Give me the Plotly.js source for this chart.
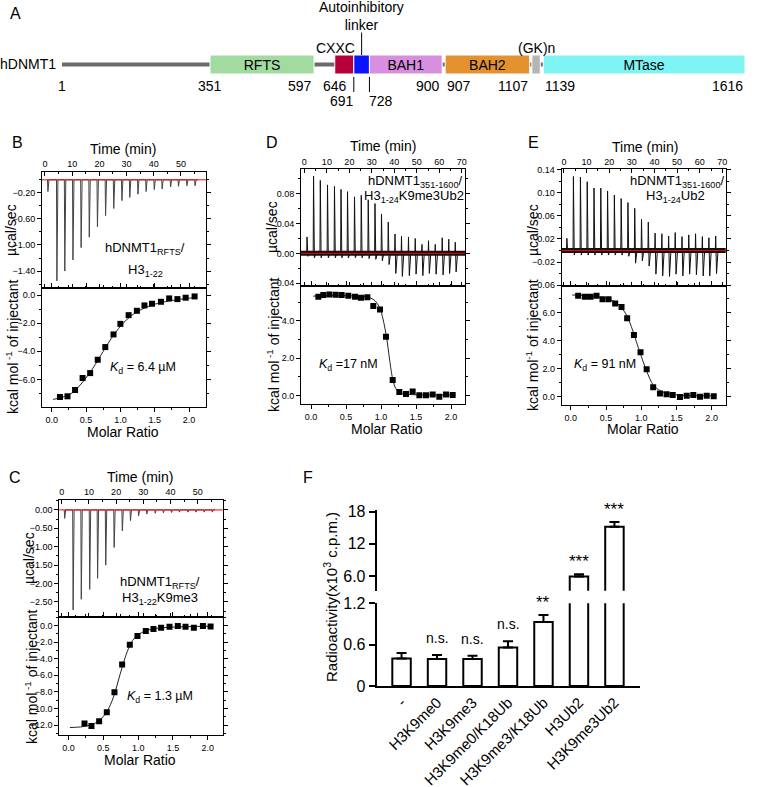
<!DOCTYPE html>
<html><head><meta charset="utf-8">
<script src="https://cdn.plot.ly/plotly-3.0.1.min.js"></script>
<style>html,body{margin:0;padding:0;background:#fff}#chart{width:757px;height:787px}</style>
</head><body><div id="chart"></div>
<script>
// ================= DATA =================
// Panel A: hDNMT1 domain architecture (residue numbers)
const domainNames  = ['RFTS', 'CXXC', 'Autoinhibitory linker', 'BAH1', 'BAH2', '(GK)n', 'MTase'];
const domainText   = ['RFTS', '', '', 'BAH1', 'BAH2', '', 'MTase'];
const domainStart  = [351, 646, 691, 728, 907, 1112, 1139];
const domainEnd    = [597, 691, 728, 900, 1107, 1132, 1616];
const proteinStart = [1];
const proteinEnd   = [1616];
const residueLabels = [1, 351, 597, 646, 900, 907, 1107, 1139, 1616];
const linkerLabels  = [691, 728];

// Panel B: hDNMT1 RFTS / H3 1-22
const timeB  = [1.0, 4.3, 7.2, 10.2, 13.2, 16.2, 19.2, 22.2, 25.2, 28.2, 31.1, 34.1, 37.1, 40.1, 43.0, 46.1, 49.0, 52.1, 55.1];
const powerB = [-0.18, -1.55, -1.40, -1.23, -1.04, -0.88, -0.72, -0.55, -0.44, -0.32, -0.27, -0.22, -0.18, -0.15, -0.14, -0.11, -0.10, -0.09, -0.09];
const ratioB = [0.12, 0.23, 0.34, 0.45, 0.56, 0.67, 0.78, 0.90, 1.00, 1.12, 1.24, 1.35, 1.46, 1.59, 1.71, 1.83, 1.95, 2.08];
const heatB  = [-7.25, -7.2, -6.75, -5.9, -5.55, -4.6, -3.7, -2.8, -2.05, -1.43, -1.12, -0.74, -0.62, -0.48, -0.24, -0.29, -0.19, -0.10];
const fitRatioB = [0.02, 0.15, 0.30, 0.45, 0.60, 0.75, 0.90, 1.05, 1.20, 1.35, 1.50, 1.70, 1.90, 2.08];
const fitHeatB  = [-7.42, -7.28, -6.95, -6.2, -5.2, -4.0, -2.85, -1.95, -1.32, -0.92, -0.65, -0.43, -0.28, -0.18];

// Panel C: hDNMT1 RFTS / H3 1-22 K9me3
const timeC  = [1.0, 4.1, 7.1, 10.2, 13.1, 16.1, 19.2, 22.2, 25.2, 28.2, 31.2, 34.3, 37.3, 40.3, 43.2, 46.3, 49.3, 52.3, 55.3];
const powerC = [-0.23, -2.72, -2.43, -2.16, -1.86, -1.50, -1.02, -0.57, -0.29, -0.16, -0.11, -0.09, -0.08, -0.07, -0.06, -0.06, -0.06, -0.06, -0.06];
const ratioC = [0.23, 0.33, 0.44, 0.55, 0.66, 0.77, 0.88, 0.99, 1.11, 1.22, 1.33, 1.45, 1.57, 1.68, 1.80, 1.93, 2.04];
const heatC  = [-11.8, -12.1, -11.55, -10.45, -8.05, -4.7, -2.3, -1.25, -0.65, -0.4, -0.25, -0.15, -0.05, -0.15, -0.25, -0.05, -0.1];
const fitRatioC = [0.02, 0.2, 0.35, 0.45, 0.55, 0.62, 0.68, 0.74, 0.8, 0.86, 0.92, 1.0, 1.1, 1.25, 1.5, 2.05];
const fitHeatC  = [-12.3, -12.2, -11.9, -11.4, -10.4, -9.2, -7.7, -5.9, -4.2, -2.8, -1.8, -1.1, -0.65, -0.35, -0.18, -0.08];

// Panel D: hDNMT1 351-1600 / H3 1-24 K9me3Ub2
const timeD  = [1.1, 4.0, 7.0, 10.2, 13.3, 16.2, 19.1, 22.2, 25.2, 28.3, 31.3, 34.2, 37.2, 40.2, 43.1, 46.2, 49.2, 52.2, 55.1, 58.1, 61.2, 64.1, 67.0];
const powerD = [0.022, 0.104, 0.098, 0.092, 0.090, 0.086, 0.083, 0.076, 0.078, 0.072, 0.067, 0.053, 0.042, 0.026, 0.023, 0.022, 0.020, 0.012, 0.017, 0.012, 0.021, 0.019, 0.015];
const dipD   = [-0.004, -0.006, -0.006, -0.006, -0.006, -0.006, -0.006, -0.006, -0.006, -0.007, -0.008, -0.010, -0.015, -0.027, -0.031, -0.030, -0.028, -0.030, -0.027, -0.028, -0.029, -0.027, -0.025];
const ratioD = [0.105, 0.176, 0.262, 0.352, 0.438, 0.533, 0.629, 0.714, 0.805, 0.89, 0.986, 1.071, 1.167, 1.262, 1.357, 1.452, 1.548, 1.643, 1.738, 1.833, 1.929, 2.024];
const heatD  = [5.29, 5.38, 5.41, 5.40, 5.38, 5.34, 5.29, 5.24, 5.26, 4.79, 4.61, 3.14, 0.82, 0.18, 0.07, 0.21, 0.0, 0.0, 0.05, -0.07, 0.05, 0.02];
const fitRatioD = [0.03, 0.3, 0.6, 0.8, 0.9, 0.96, 1.0, 1.04, 1.08, 1.12, 1.16, 1.2, 1.25, 1.32, 1.5, 2.05];
const fitHeatD  = [5.32, 5.35, 5.33, 5.28, 5.12, 4.85, 4.5, 3.9, 3.1, 2.0, 1.0, 0.45, 0.18, 0.08, 0.03, 0.02];

// Panel E: hDNMT1 351-1600 / H3 1-24 Ub2
const timeE  = [1.2, 4.1, 7.2, 10.2, 13.2, 16.2, 19.2, 22.2, 25.2, 28.2, 31.2, 34.2, 37.2, 40.2, 43.2, 46.2, 49.1, 52.1, 55.1, 58.1, 61.1, 64.0, 67.0];
const powerE = [0.021, 0.128, 0.127, 0.119, 0.108, 0.108, 0.103, 0.096, 0.090, 0.083, 0.073, 0.054, 0.049, 0.030, 0.029, 0.025, 0.031, 0.024, 0.027, 0.029, 0.024, 0.022, 0.025];
const dipE   = [-0.003, -0.008, -0.008, -0.008, -0.008, -0.008, -0.008, -0.008, -0.008, -0.010, -0.022, -0.018, -0.027, -0.041, -0.044, -0.045, -0.041, -0.044, -0.041, -0.042, -0.044, -0.044, -0.040];
const ratioE = [0.104, 0.199, 0.28, 0.365, 0.45, 0.536, 0.63, 0.72, 0.80, 0.896, 0.99, 1.077, 1.17, 1.266, 1.36, 1.447, 1.55, 1.646, 1.74, 1.835, 1.93, 2.03];
const heatE  = [7.21, 7.14, 7.14, 7.21, 6.95, 6.95, 6.65, 6.4, 5.6, 4.41, 3.18, 1.97, 0.69, 0.24, 0.19, 0.14, 0.0, 0.09, 0.14, 0.02, 0.09, 0.05];
const fitRatioE = [0.02, 0.2, 0.4, 0.55, 0.65, 0.72, 0.79, 0.86, 0.93, 1.0, 1.08, 1.17, 1.27, 1.41, 1.7, 2.03];
const fitHeatE  = [7.26, 7.22, 7.12, 6.95, 6.7, 6.35, 5.84, 5.0, 3.95, 2.9, 1.8, 0.85, 0.45, 0.2, 0.1, 0.08];

// Panel F: methyltransferase activity
const fCategories   = ['-', 'H3K9me0', 'H3K9me3', 'H3K9me0/K18Ub', 'H3K9me3/K18Ub', 'H3Ub2', 'H3K9me3Ub2'];
const radioactivity = [0.40, 0.39, 0.39, 0.56, 0.93, 5.9, 15.2];
const radioErr      = [0.08, 0.06, 0.05, 0.09, 0.10, 0.45, 0.9];
const fSignificance = ['', 'n.s.', 'n.s.', 'n.s.', '**', '***', '***'];
const fLowerTicks = [0, 0.6, 1.2];
const fLowerTickText = ['0', '0.6', '1.2'];
const fUpperTicks = [6, 12, 18];
const fUpperTickText = ['6.0', '12', '18'];

// ================= STYLE / LAYOUT =================
const W = 757, H = 787;
const FONT = "Arial, 'Liberation Sans', sans-serif";
const domainColors = ['#a1dba0', '#b5003b', '#0a14ff', '#d98fdf', '#e3922f', '#b5b5b5', '#80f3f4'];
const residueAnchor = ['center', 'center', 'right', 'center', 'right', 'left', 'right', 'left', 'right'];
const linkerAnchor = ['right', 'left'];
const dx = (a, b) => [a / W, b / W];
const dy = (top, bottom) => [1 - bottom / H, 1 - top / H];

const traces = [];
const ann = [];
const shapes = [];

function note(px, py, text, opts) {
  ann.push(Object.assign({xref: 'paper', yref: 'paper', x: px / W, y: 1 - py / H, text: text, showarrow: false,
    xanchor: 'center', yanchor: 'middle', font: {family: FONT, size: 14, color: '#000'}}, opts || {}));
}

const layout = {
  width: W, height: H, margin: {l: 0, r: 0, t: 0, b: 0},
  paper_bgcolor: '#fff', plot_bgcolor: 'rgba(0,0,0,0)',
  showlegend: false, barmode: 'overlay', hovermode: false,
  font: {family: FONT, color: '#000'},
  xaxis: {domain: [0, 1], range: [-145.6, 1644.4], visible: false, fixedrange: true},
  yaxis: {domain: dy(0, 110), range: [-4.55, 6.45], visible: false, fixedrange: true}
};

// ---------- Panel A ----------
traces.push({type: 'bar', orientation: 'h', x: proteinEnd.map((e, i) => e - proteinStart[i]), base: proteinStart,
  y: proteinStart.map(() => 0), width: 0.4, marker: {color: '#6b6b6b'}, xaxis: 'x', yaxis: 'y', hoverinfo: 'skip'});
traces.push({type: 'bar', orientation: 'h', x: domainEnd.map((e, i) => e - domainStart[i]), base: domainStart,
  y: domainStart.map(() => 0), width: 1.9, name: 'domains', customdata: domainNames,
  marker: {color: domainColors, line: {color: '#ffffff', width: 1}},
  text: domainText, textposition: 'inside', insidetextanchor: 'middle', textangle: 0, constraintext: 'none',
  textfont: {family: FONT, size: 14, color: '#000'}, xaxis: 'x', yaxis: 'y'});
// tick marks under the linker boundaries
const ltx = [], lty = [];
linkerLabels.forEach(r => { ltx.push(r, r, null); lty.push(-1.25, -2.75, null); });
traces.push({type: 'scatter', mode: 'lines', x: ltx, y: lty, line: {color: '#000', width: 1}, xaxis: 'x', yaxis: 'y'});
// pointer to the autoinhibitory linker
const linkerMid = (domainStart[2] + domainEnd[2]) / 2;
traces.push({type: 'scatter', mode: 'lines', x: [linkerMid, linkerMid], y: [0.95, 3.2], line: {color: '#000', width: 1}, xaxis: 'x', yaxis: 'y'});

residueLabels.forEach((r, i) => ann.push({xref: 'x', yref: 'y', x: r, y: -2.15, text: String(r), showarrow: false,
  xanchor: residueAnchor[i], yanchor: 'middle', font: {family: FONT, size: 14, color: '#000'}}));
linkerLabels.forEach((r, i) => ann.push({xref: 'x', yref: 'y', x: r, y: -3.65, text: String(r), showarrow: false,
  xanchor: linkerAnchor[i], xshift: linkerAnchor[i] === 'right' ? 2 : -2, yanchor: 'middle', font: {family: FONT, size: 14, color: '#000'}}));
ann.push({xref: 'x', yref: 'y', x: domainEnd[1], y: 1.65, text: 'CXXC', showarrow: false, xanchor: 'right', xshift: 3, yanchor: 'middle', font: {family: FONT, size: 14, color: '#000'}});
ann.push({xref: 'x', yref: 'y', x: (domainStart[5] + domainEnd[5]) / 2, y: 1.65, text: '(GK)n', showarrow: false, yanchor: 'middle', font: {family: FONT, size: 14, color: '#000'}});
ann.push({xref: 'x', yref: 'y', x: linkerMid, y: 4.85, text: 'Autoinhibitory<br>linker', showarrow: false, yanchor: 'middle', font: {family: FONT, size: 14, color: '#000'}});
note(15, 14, 'A', {font: {family: FONT, size: 16, color: '#000'}});
note(58, 64.5, 'hDNMT1', {xanchor: 'right'});

// ---------- ITC panels ----------
function baseAx() {
  return {showline: true, linecolor: '#000', linewidth: 1, mirror: 'ticks', ticklen: 4, tickwidth: 1, tickcolor: '#000',
    showgrid: false, zeroline: false, fixedrange: true, tickfont: {family: FONT, size: 9, color: '#000'}};
}
function addITC(n, px0, px1, pyTop, pyMid, pyBot, cfg) {
  const xd = dx(px0, px1);
  const m = n + 1;
  layout['xaxis' + n] = Object.assign(baseAx(), {domain: xd, range: cfg.timeRange, anchor: 'y' + n, side: 'top',
    ticks: 'inside', dtick: 10, tick0: 0, minor: {ticks: 'inside', ticklen: 2, dtick: 5, tick0: 0, tickcolor: '#000'}});
  layout['yaxis' + n] = Object.assign(baseAx(), {domain: dy(pyTop, pyMid), range: cfg.topY, anchor: 'x' + n,
    ticks: 'outside', tick0: cfg.topTick0, dtick: cfg.topDtick, tickformat: cfg.topFmt,
    minor: {ticks: 'outside', ticklen: 2, dtick: cfg.topDtick / 2, tick0: cfg.topTick0, tickcolor: '#000'}});
  layout['xaxis' + m] = Object.assign(baseAx(), {domain: xd, range: cfg.ratioRange, anchor: 'y' + m,
    ticks: 'outside', dtick: 0.5, tick0: 0, tickformat: '.1f', minor: {ticks: 'outside', ticklen: 2, dtick: 0.25, tick0: 0, tickcolor: '#000'}});
  layout['yaxis' + m] = Object.assign(baseAx(), {domain: dy(pyMid, pyBot), range: cfg.botY, anchor: 'x' + m,
    ticks: 'outside', dtick: 2, tick0: 0, tickformat: '.1f', minor: {ticks: 'outside', ticklen: 2, dtick: 1, tick0: 0, tickcolor: '#000'}});

  if (cfg.noise) {
    shapes.push({type: 'line', xref: 'x' + n + ' domain', yref: 'y' + n, x0: 0, x1: 1, y0: 0, y1: 0,
      line: {color: '#111', width: 5}, layer: 'below'});
  }
  const x = [], y = [];
  cfg.times.forEach((t, i) => {
    x.push(t - 0.08, t + 0.08, t + 0.45, t + 1.1);
    y.push(0, cfg.power[i], cfg.dips ? cfg.dips[i] : 0, 0);
  });
  traces.push({type: 'scatter', mode: 'lines', x: x, y: y, line: {color: cfg.spikeColor, width: 1}, xaxis: 'x' + n, yaxis: 'y' + n});
  shapes.push({type: 'line', xref: 'x' + n + ' domain', yref: 'y' + n, x0: 0, x1: 1, y0: 0, y1: 0,
    line: {color: '#ff0000', width: 1}, layer: 'above'});

  traces.push({type: 'scatter', mode: 'lines', x: cfg.fitX, y: cfg.fitY, line: {color: '#222', width: 1, shape: 'spline', smoothing: 0.8},
    xaxis: 'x' + m, yaxis: 'y' + m});
  traces.push({type: 'scatter', mode: 'markers', x: cfg.ratio, y: cfg.heat, marker: {symbol: 'square', size: 6, color: '#000'},
    xaxis: 'x' + m, yaxis: 'y' + m});
}

addITC(2, 42, 206, 172, 288, 407, {timeRange: [-1.1, 59.2], topY: [-1.66, 0.12], topTick0: -0.2, topDtick: 0.4, topFmt: '.2f',
  ratioRange: [-0.141, 2.246], botY: [-7.96, 0.5], times: timeB, power: powerB, spikeColor: '#444',
  ratio: ratioB, heat: heatB, fitX: fitRatioB, fitY: fitHeatB});
addITC(4, 59.3, 222.7, 500, 617.3, 735, {timeRange: [-0.9, 59.2], topY: [-2.92, 0.27], topTick0: 0, topDtick: 0.5, topFmt: '.2f',
  ratioRange: [-0.132, 2.214], botY: [-13.2, 1.0], times: timeC, power: powerC, spikeColor: '#444',
  ratio: ratioC, heat: heatC, fitX: fitRatioC, fitY: fitHeatC});
addITC(6, 301, 465, 169.3, 285.7, 404.3, {timeRange: [-1.5, 71.4], topY: [-0.0435, 0.113], topTick0: 0, topDtick: 0.04, topFmt: '.2f',
  ratioRange: [-0.143, 2.2], botY: [-0.48, 5.88], times: timeD, power: powerD, dips: dipD, noise: true, spikeColor: '#111',
  ratio: ratioD, heat: heatD, fitX: fitRatioD, fitY: fitHeatD});
addITC(8, 561.7, 725.7, 169.3, 285.7, 405, {timeRange: [-1.0, 71.5], topY: [-0.061, 0.1405], topTick0: 0.02, topDtick: 0.04, topFmt: '.2f',
  ratioRange: [-0.13, 2.2], botY: [-0.57, 7.92], times: timeE, power: powerE, dips: dipE, noise: true, spikeColor: '#111',
  ratio: ratioE, heat: heatE, fitX: fitRatioE, fitY: fitHeatE});

const big = {family: FONT, size: 14, color: '#000'};
const mid = {family: FONT, size: 13, color: '#000'};
const kd  = {family: FONT, size: 12.5, color: '#000'};
const letter = {family: FONT, size: 16, color: '#000'};
const KCAL = 'kcal mol<sup> -1</sup> of injectant';
// B
note(17, 143, 'B', {font: letter});
note(123, 149, 'Time (min)', {font: big});
note(11, 230, 'µcal/sec', {font: big, textangle: -90});
note(12, 347, KCAL, {font: big, textangle: -90});
note(123, 432, 'Molar Ratio', {font: big});
note(145, 248, 'hDNMT1<sub>RFTS</sub>/', {font: mid});
note(145, 270, 'H3<sub>1-22</sub>', {font: mid});
note(143, 368, '<i>K</i><sub>d</sub> = 6.4 µM', {font: kd});
// C
note(15, 477, 'C', {font: letter});
note(140, 477, 'Time (min)', {font: big});
note(29, 558, 'µcal/sec', {font: big, textangle: -90});
note(31, 677, KCAL, {font: big, textangle: -90});
note(140, 760, 'Molar Ratio', {font: big});
note(160, 582, 'hDNMT1<sub>RFTS</sub>/', {font: mid});
note(160, 598, 'H3<sub>1-22</sub>K9me3', {font: mid});
note(160, 697, '<i>K</i><sub>d</sub> = 1.3 µM', {font: kd});
// D
note(272, 143, 'D', {font: letter});
note(383, 146, 'Time (min)', {font: big});
note(272, 227, 'µcal/sec', {font: big, textangle: -90});
note(273, 345, KCAL, {font: big, textangle: -90});
note(387, 429, 'Molar Ratio', {font: big});
note(415, 181, 'hDNMT1<sub>351-1600</sub>/', {font: mid});
note(414, 196, 'H3<sub>1-24</sub>K9me3Ub2', {font: mid});
note(348, 365, '<i>K</i><sub>d</sub> =17 nM', {font: kd});
// E
note(533, 143, 'E', {font: letter});
note(645, 147, 'Time (min)', {font: big});
note(533, 230, 'µcal/sec', {font: big, textangle: -90});
note(532, 345, 'kcal mol<sup>-1</sup> of injectant', {font: big, textangle: -90});
note(643, 429, 'Molar Ratio', {font: big});
note(677, 181, 'hDNMT1<sub>351-1600</sub>/', {font: mid});
note(675, 196, 'H3<sub>1-24</sub>Ub2', {font: mid});
note(605, 365, '<i>K</i><sub>d</sub> = 91 nM', {font: kd});

// ---------- Panel F ----------
const fx = dx(376.7, 640);
const fRange = [-0.7, 6.72];
layout.xaxis10 = {domain: fx, range: fRange, anchor: 'y10', type: 'category', categoryorder: 'array', categoryarray: fCategories,
  showline: true, linecolor: '#000', linewidth: 2, ticks: '', tickangle: -45, showgrid: false, zeroline: false, fixedrange: true,
  tickfont: {family: FONT, size: 15, color: '#000'}};
layout.yaxis10 = {domain: dy(603.3, 686), range: [0, 1.2], anchor: 'x10', showline: true, linecolor: '#000', linewidth: 2,
  ticks: 'outside', ticklen: 6, tickwidth: 2, tickcolor: '#000', tickvals: fLowerTicks, ticktext: fLowerTickText,
  showgrid: false, zeroline: false, fixedrange: true, tickfont: {family: FONT, size: 16, color: '#000'}};
layout.xaxis11 = {domain: fx, range: fRange, anchor: 'y11', type: 'category', categoryorder: 'array', categoryarray: fCategories,
  visible: false, fixedrange: true};
layout.yaxis11 = {domain: dy(510, 590.7), range: [3.26, 18.32], anchor: 'x11', showline: true, linecolor: '#000', linewidth: 2,
  ticks: 'outside', ticklen: 6, tickwidth: 2, tickcolor: '#000', tickvals: fUpperTicks, ticktext: fUpperTickText,
  showgrid: false, zeroline: false, fixedrange: true, tickfont: {family: FONT, size: 16, color: '#000'}};
['10', '11'].forEach(k => traces.push({type: 'bar', x: fCategories, y: radioactivity, width: 0.52,
  marker: {color: '#fff', line: {color: '#000', width: 2}},
  error_y: {type: 'data', symmetric: false, array: radioErr, arrayminus: radioErr.map(() => 0), color: '#000', thickness: 2, width: 5},
  xaxis: 'x' + k, yaxis: 'y' + k}));
fSignificance.forEach((s, i) => {
  if (!s) return;
  const top = radioactivity[i] + radioErr[i];
  const upper = top > fLowerTicks[fLowerTicks.length - 1];
  ann.push({xref: upper ? 'x11' : 'x10', yref: upper ? 'y11' : 'y10', x: i, y: top, text: s, showarrow: false,
    yanchor: 'bottom', yshift: s === 'n.s.' ? 7 : 1, font: {family: FONT, size: s === 'n.s.' ? 14 : 17, color: '#000'}});
});
note(308, 477, 'F', {font: letter});
note(330, 597, 'Radioactivity(x10<sup>3</sup> c.p.m.)', {font: {family: FONT, size: 15, color: '#000'}, textangle: -90});

layout.annotations = ann;
layout.shapes = shapes;

Plotly.newPlot('chart', traces, layout, {staticPlot: true, displayModeBar: false});
</script>
</body></html>
